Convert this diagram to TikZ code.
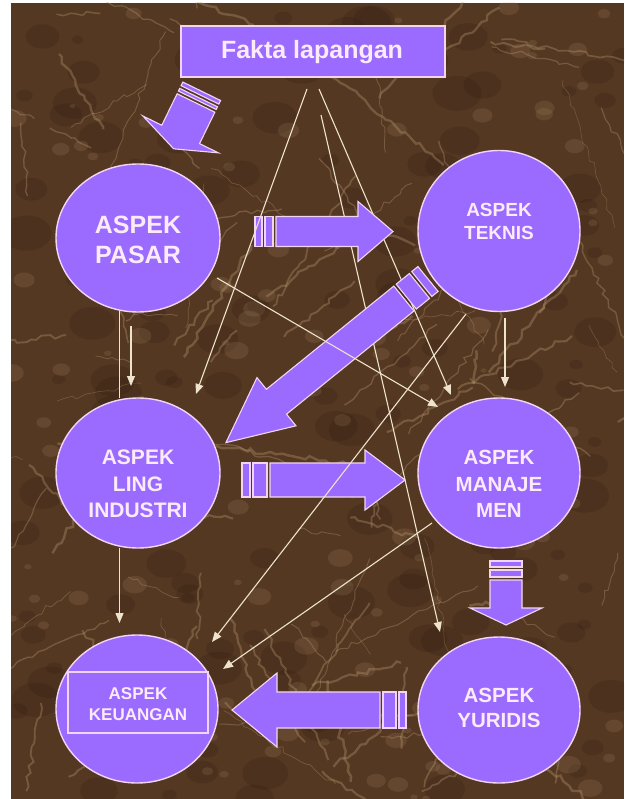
\documentclass[tikz,border=0pt]{standalone}
\usepackage{fontspec}
\setmainfont{Liberation Sans}
\usetikzlibrary{shapes.geometric,arrows.meta,decorations.pathmorphing}
\definecolor{purp}{HTML}{9B6BFF}
\definecolor{edgec}{HTML}{F2D5F2}
\definecolor{txtc}{HTML}{FBEAF8}
\definecolor{linec}{HTML}{EEE3CC}
\definecolor{marble}{HTML}{553822}
\definecolor{veinc}{HTML}{BE9E76}
\definecolor{darkc}{HTML}{2E1C10}
\newcommand\BlkArrow[9]{%
  \begin{scope}[shift={(#1,#2)},rotate=#3]
    \draw[blk] (0,-#5) rectangle (#8,#5);
    \draw[blk] ({#8+3},-#5) rectangle (#9,#5);
    \draw[blk] ({#9+3},-#5) -- ({#4-#6},-#5) -- ({#4-#6},-#7) -- (#4,0)
      -- ({#4-#6},#7) -- ({#4-#6},#5) -- ({#9+3},#5) -- cycle;
  \end{scope}}
\tikzset{
  blk/.style={fill=purp,draw=edgec,line width=1.1pt,line join=miter},
  circ/.style={ellipse,fill=purp,draw=edgec,line width=1.4pt,inner sep=0pt},
  lab/.style={text=txtc,align=center,inner sep=0pt},
  thinarr/.style={draw=linec,line width=1.1pt,-{Triangle[length=10pt,width=8pt]}},
  thinln/.style={draw=linec,line width=1.1pt},
  vein/.style={draw=veinc,decorate,decoration={random steps,segment length=6pt,amplitude=2.5pt}}
}
\begin{document}
\begin{tikzpicture}[x=1pt,y=-1pt]
\useasboundingbox (0,0) rectangle (624,799);
\fill[white] (0,0) rectangle (624,799);
% marble background
\fill[marble] (11,3) rectangle (624,799);
\begin{scope}
\clip (11,3) rectangle (624,799);
\pgfmathsetseed{17}
\foreach \i in {1,...,160}{
  \pgfmathsetmacro\xa{11+rnd*613}
  \pgfmathsetmacro\ya{3+rnd*796}
  \pgfmathsetmacro\len{8+rnd*28}
  \fill[darkc,opacity=0.22] (\xa,\ya) ellipse ({\len*0.7} and {\len*0.5});
}
\foreach \i in {1,...,140}{
  \pgfmathsetmacro\xa{11+rnd*613}
  \pgfmathsetmacro\ya{3+rnd*796}
  \pgfmathsetmacro\len{4+rnd*14}
  \fill[veinc,opacity=0.15] (\xa,\ya) ellipse ({\len*0.7} and {\len*0.5});
}
\foreach \i in {1,...,120}{
  \pgfmathsetmacro\xa{11+rnd*613}
  \pgfmathsetmacro\ya{3+rnd*796}
  \pgfmathsetmacro\ang{rnd*360}
  \pgfmathsetmacro\len{30+rnd*140}
  \pgfmathsetmacro\lw{0.5+rnd*2}
  \draw[vein,line width=\lw pt,opacity=0.33] (\xa,\ya) -- ++(\ang:\len);
}
\end{scope}

% nodes
\node[draw=edgec,fill=purp,line width=1.5pt,minimum width=264pt,minimum height=51pt,inner sep=0pt] (fakta) at (313,51.5) {};
\node[lab,font=\bfseries\fontsize{25}{30}\selectfont] (faktaT) at (312,52) {Fakta lapangan};

\node[circ,minimum width=164pt,minimum height=148pt] (pasar) at (138,238) {};
\node[lab,font=\bfseries\fontsize{25}{30}\selectfont] (pasarT) at (138,240) {ASPEK\\PASAR};

\node[circ,minimum width=162pt,minimum height=161pt] (teknis) at (499,231) {};
\node[lab,font=\bfseries\fontsize{19}{23}\selectfont] (teknisT) at (499,221) {ASPEK\\TEKNIS};

\node[circ,minimum width=164pt,minimum height=150pt] (ling) at (138,473) {};
\node[lab,font=\bfseries\fontsize{21}{26.5}\selectfont] (lingT) at (138,484) {ASPEK\\LING\\INDUSTRI};

\node[circ,minimum width=162pt,minimum height=150pt] (manaje) at (499,473) {};
\node[lab,font=\bfseries\fontsize{20.5}{26.5}\selectfont] (manajeT) at (499,484) {ASPEK\\MANAJE\\MEN};

\node[circ,minimum width=162pt,minimum height=148pt] (keu) at (137,709) {};
\node[draw=edgec,line width=1.4pt,minimum width=140pt,minimum height=61pt,inner sep=0pt] (keuR) at (138,702.5) {};
\node[lab,font=\bfseries\fontsize{17}{20.5}\selectfont] (keuT) at (138,704) {ASPEK\\KEUANGAN};

\node[circ,minimum width=162pt,minimum height=146pt] (yur) at (499,710) {};
\node[lab,font=\bfseries\fontsize{20.5}{25}\selectfont] (yurT) at (499,708) {ASPEK\\YURIDIS};

% free ends of thin connectors
\coordinate (l1s) at (307,89);   \coordinate (l1e) at (196,394);
\coordinate (l2s) at (319,89);   \coordinate (l2e) at (451,395);
\coordinate (l3s) at (321,115);  \coordinate (l3e) at (440,632);
\coordinate (l4s) at (217,278);  \coordinate (l4e) at (438,407);
\coordinate (l5s) at (466,314);  \coordinate (l5e) at (212,642);
\coordinate (l6s) at (432,523);  \coordinate (l6e) at (223,669);
\coordinate (l7s) at (119.5,548); \coordinate (l7e) at (119.5,623);
\coordinate (l8s) at (119.5,311); \coordinate (l8e) at (119.5,398);
\coordinate (l9s) at (131,326);  \coordinate (l9e) at (131,386);
\coordinate (l10s) at (505,318); \coordinate (l10e) at (505,387);

% lines under the block arrows
\draw[thinarr] (l2s) -- (l2e);
\draw[thinarr] (l3s) -- (l3e);

% block arrows
\BlkArrow{201.7}{91.3}{-116}{64}{21}{16}{42}{4}{10}
\BlkArrow{255}{231.5}{0}{138}{15}{35}{30}{7}{18}
\BlkArrow{428}{279}{-141}{260}{16}{65}{31}{8}{28}
\BlkArrow{242}{480}{0}{163}{17}{40}{30}{8}{25}
\BlkArrow{506}{561}{-90}{64}{16}{17}{36}{6}{16}
\BlkArrow{406}{710}{180}{174}{18}{45}{37}{7}{23}

% lines over the block arrows
\draw[thinarr] (l1s) -- (l1e);
\draw[thinarr] (l4s) -- (l4e);
\draw[thinarr] (l5s) -- (l5e);
\draw[thinarr] (l6s) -- (l6e);
\draw[thinarr] (l7s) -- (l7e);
\draw[thinln] (l8s) -- (l8e);
\draw[thinarr] (l9s) -- (l9e);
\draw[thinarr] (l10s) -- (l10e);
\end{tikzpicture}
\end{document}
